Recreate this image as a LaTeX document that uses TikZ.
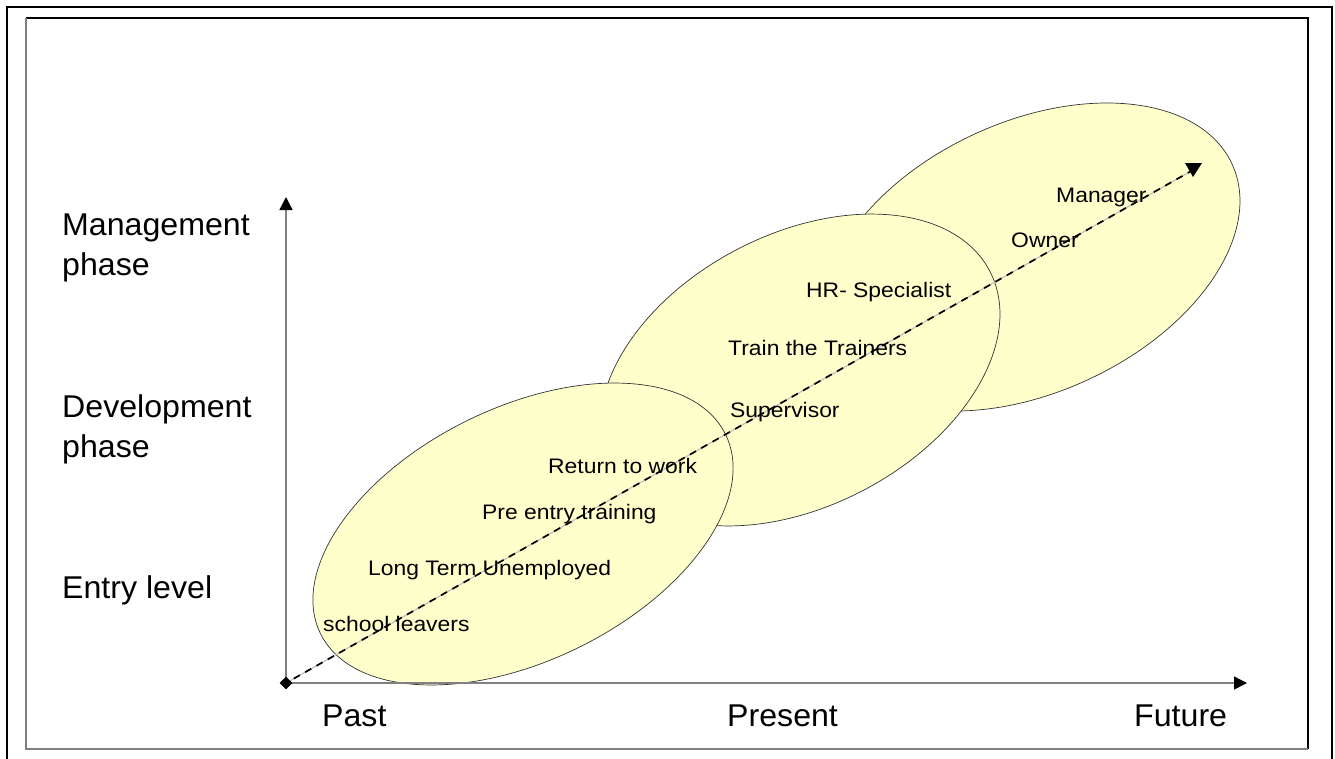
\documentclass[tikz,border=0pt]{standalone}
\usepackage{fontspec}
\setmainfont{Liberation Sans}
\newfontfamily\rolefont[FakeStretch=1.09]{Liberation Sans}
\newfontfamily\axisfont[FakeStretch=1.02]{Liberation Sans}
\usetikzlibrary{arrows.meta,shapes.geometric}
\definecolor{blobfill}{RGB}{255,255,204}
\definecolor{axisgray}{RGB}{128,128,128}
\begin{document}
\begin{tikzpicture}[x=1pt,y=1pt,
  blob/.style={fill=blobfill,draw=black!80,line width=0.7pt},
  biglabel/.style={font=\axisfont\fontsize{31.5}{40}\selectfont,inner sep=0pt,align=left},
  smalllabel/.style={font=\rolefont\fontsize{21}{25}\selectfont,inner sep=0pt,anchor=base west},
  axisline/.style={draw=axisgray,line width=1.4pt},
  axistip/.style={-{Triangle[length=13pt,width=13pt,color=black]}},
]
\useasboundingbox (0,0) rectangle (1335,-758);
% outer frame
\draw[line width=2pt] (6.5,-760) -- (6.5,-7) -- (1332,-7) -- (1332,-760);
% inner frame
\draw[line width=1.4pt] (26,-18) -- (1308,-18) -- (1308,-749);
\draw[axisgray,line width=1.6pt] (26,-18) -- (26,-749) -- (1308,-749);
% ellipses (back to front)
\draw[blob, rotate around={24.8:(1031,-257)}] (1031,-257) ellipse [x radius=221.5pt, y radius=135.3pt];
\draw[blob, rotate around={27.5:(800,-370)}] (800,-370) ellipse [x radius=214pt, y radius=136pt];
\draw[blob, rotate around={26.2:(523,-534)}] (523,-534) ellipse [x radius=225.7pt, y radius=126.4pt];
% axes
\coordinate (ytip) at (286,-197);
\coordinate (xtip) at (1247,-683);
\coordinate (dtip) at (1193,-170);
\draw[axisline,axistip] (286,-683) coordinate (O) -- (ytip);
\draw[axisline,axistip] (O) -- (xtip);
% dashed progression arrow
\draw[black!25,line width=1.2pt] (O) -- (dtip);
\draw[black,line width=1.7pt,dash pattern=on 7pt off 6pt,dash phase=4pt] (O) -- (dtip);
\fill (1185,-163) -- (1202,-163) -- (1193,-177) -- cycle;
\node[diamond,fill=black,draw=none,minimum size=13pt,inner sep=0pt] (origin) at (O) {};
% axis labels
\node[biglabel,anchor=west] (mgmt) at (62,-248) {Management\\phase};
\node[biglabel,anchor=west] (dev) at (62,-429) {Development\\phase};
\node[biglabel,anchor=base west] (entry) at (62,-598) {Entry level};
\node[biglabel,anchor=base west] (past) at (322,-726) {Past};
\node[biglabel,anchor=base west] (present) at (727,-726) {Present};
\node[biglabel,anchor=base west] (future) at (1134,-726) {Future};
% role labels
\node[smalllabel] (school) at (323,-631) {school leavers};
\node[smalllabel] (ltu) at (368,-575) {Long Term Unemployed};
\node[smalllabel] (pre) at (482,-519) {Pre entry training};
\node[smalllabel] (ret) at (548,-473) {Return to work};
\node[smalllabel] (sup) at (730,-417) {Supervisor};
\node[smalllabel] (ttt) at (728,-355) {Train the Trainers};
\node[smalllabel] (hr) at (806,-297) {HR- Specialist};
\node[smalllabel] (owner) at (1011,-247) {Owner};
\node[smalllabel] (mgr) at (1056,-202) {Manager};
\end{tikzpicture}
\end{document}
